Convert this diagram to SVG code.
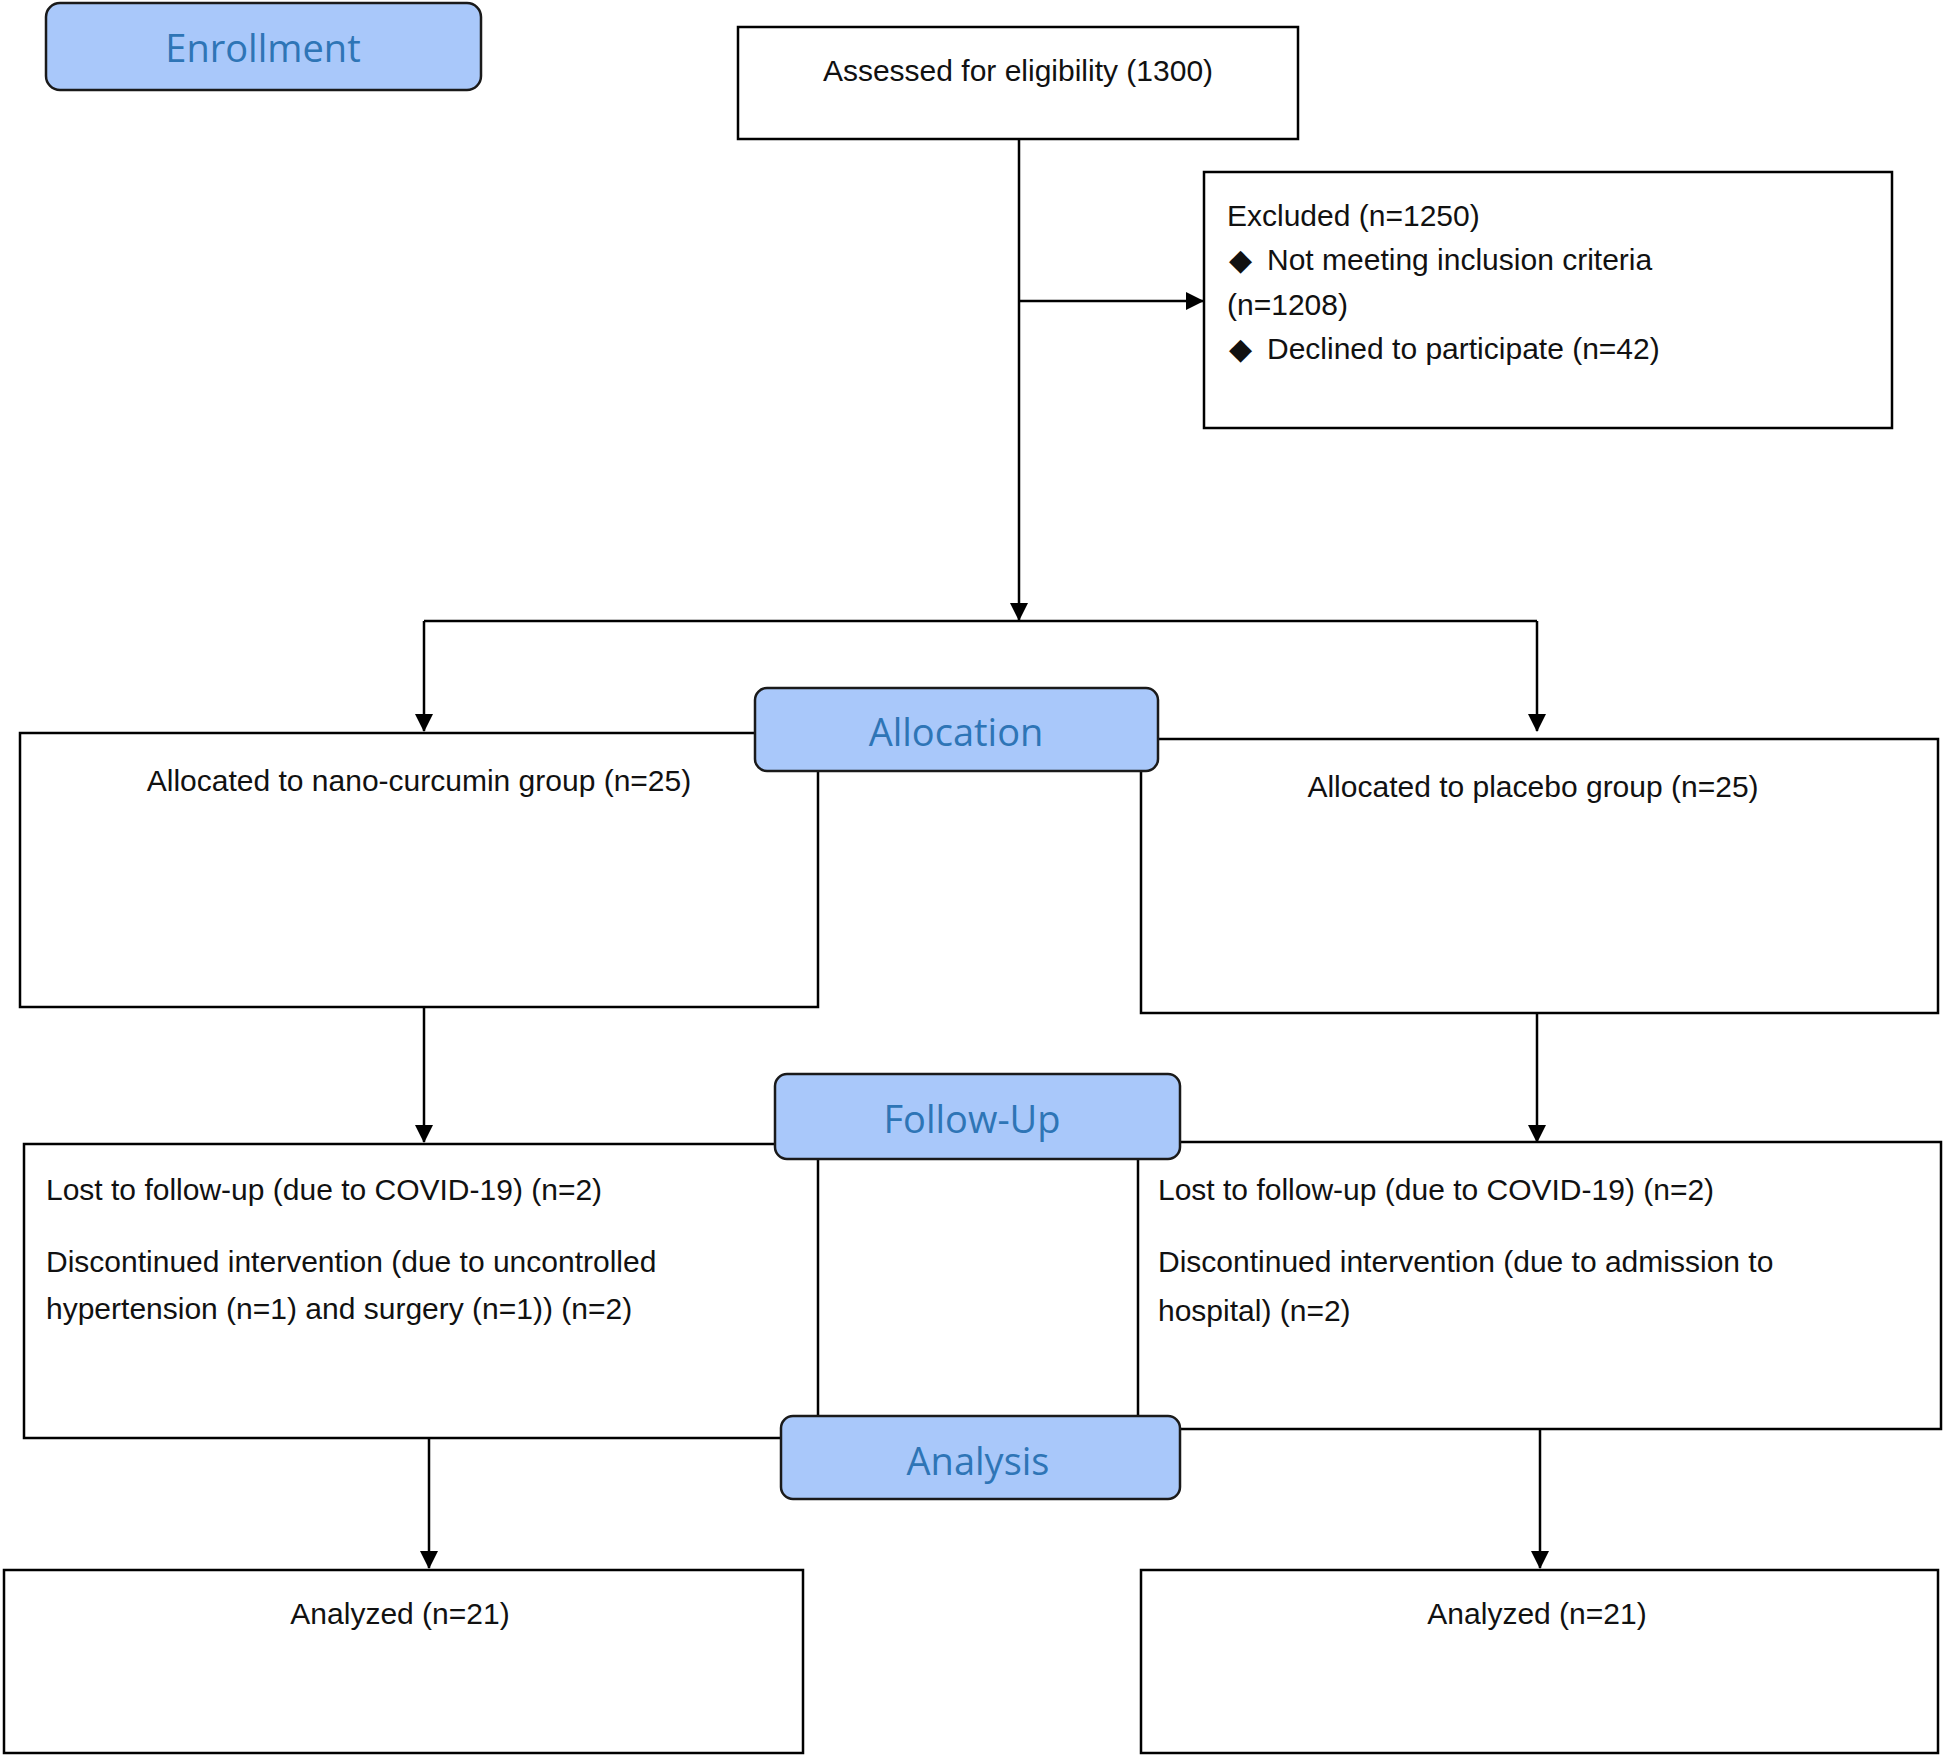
<svg xmlns="http://www.w3.org/2000/svg" width="1944" height="1757" viewBox="0 0 1944 1757">
<style>
.box{fill:#fff;stroke:#000;stroke-width:2.5}
.lab{fill:#a9c8fa;stroke:#1a1a1a;stroke-width:2.5}
.t{font-family:"Liberation Sans",Arial,sans-serif;font-size:30px;fill:#111}
.lt{font-family:"Open Sans","Liberation Sans",sans-serif;font-size:38px;fill:#2e75b6;text-anchor:middle}
.c{stroke:#000;stroke-width:2.5;fill:none}
</style>
<defs><marker id="a" markerWidth="10" markerHeight="10" refX="9" refY="5" orient="auto" markerUnits="userSpaceOnUse" viewBox="0 0 10 10"><path d="M0,0L10,5L0,10z" fill="#000"/></marker>
<marker id="b" markerWidth="18" markerHeight="18" refX="17" refY="9" orient="auto" markerUnits="userSpaceOnUse" viewBox="0 0 18 18"><path d="M0,0L18,9L0,18z" fill="#000"/></marker></defs>
<rect width="1944" height="1757" fill="#fff"/>
<g id="connectors">
<path class="c" d="M1019,139V620" marker-end="url(#b)"/>
<path class="c" d="M1019,301H1203" marker-end="url(#b)"/>
<path class="c" d="M424,621H1537"/>
<path class="c" d="M424,621V731" marker-end="url(#b)"/>
<path class="c" d="M1537,621V731" marker-end="url(#b)"/>
<path class="c" d="M424,1007V1142" marker-end="url(#b)"/>
<path class="c" d="M1537,1013V1142" marker-end="url(#b)"/>
<path class="c" d="M429,1438V1568" marker-end="url(#b)"/>
<path class="c" d="M1540,1429V1568" marker-end="url(#b)"/>
</g>
<g id="enrollment"><rect class="lab" x="46" y="3" width="435" height="87" rx="14"/><text class="lt" x="263" y="62">Enrollment</text></g>
<g id="assessed"><rect class="box" x="738" y="27" width="560" height="112"/><text class="t" x="1018" y="81" text-anchor="middle">Assessed for eligibility (1300)</text></g>
<g id="excluded"><rect class="box" x="1204" y="172" width="688" height="256"/>
<text class="t" x="1227" y="226">Excluded (n=1250)</text>
<text class="t" x="1229" y="270" font-size="22">◆</text><text class="t" x="1267" y="270">Not meeting inclusion criteria</text>
<text class="t" x="1227" y="315">(n=1208)</text>
<text class="t" x="1229" y="359" font-size="22">◆</text><text class="t" x="1267" y="359">Declined to participate (n=42)</text></g>
<g id="alloc-left"><rect class="box" x="20" y="733" width="798" height="274"/><text class="t" x="419" y="791" text-anchor="middle">Allocated to nano-curcumin group (n=25)</text></g>
<g id="alloc-right"><rect class="box" x="1141" y="739" width="797" height="274"/><text class="t" x="1533" y="797" text-anchor="middle">Allocated to placebo group (n=25)</text></g>
<g id="allocation"><rect class="lab" x="755" y="688" width="403" height="83" rx="12"/><text class="lt" x="956" y="746">Allocation</text></g>
<g id="fu-left"><rect class="box" x="24" y="1144" width="794" height="294"/>
<text class="t" x="46" y="1200">Lost to follow-up (due to COVID-19) (n=2)</text>
<text class="t" x="46" y="1272">Discontinued intervention (due to uncontrolled</text>
<text class="t" x="46" y="1319">hypertension (n=1) and surgery (n=1)) (n=2)</text></g>
<g id="fu-right"><rect class="box" x="1138" y="1142" width="803" height="287"/>
<text class="t" x="1158" y="1200">Lost to follow-up (due to COVID-19) (n=2)</text>
<text class="t" x="1158" y="1272">Discontinued intervention (due to admission to</text>
<text class="t" x="1158" y="1321">hospital) (n=2)</text></g>
<g id="followup"><rect class="lab" x="775" y="1074" width="405" height="85" rx="12"/><text class="lt" x="972" y="1133">Follow-Up</text></g>
<g id="analysis"><rect class="lab" x="781" y="1416" width="399" height="83" rx="12"/><text class="lt" x="978" y="1475">Analysis</text></g>
<g id="an-left"><rect class="box" x="4" y="1570" width="799" height="183"/><text class="t" x="400" y="1624" text-anchor="middle">Analyzed (n=21)</text></g>
<g id="an-right"><rect class="box" x="1141" y="1570" width="797" height="183"/><text class="t" x="1537" y="1624" text-anchor="middle">Analyzed (n=21)</text></g>
</svg>
